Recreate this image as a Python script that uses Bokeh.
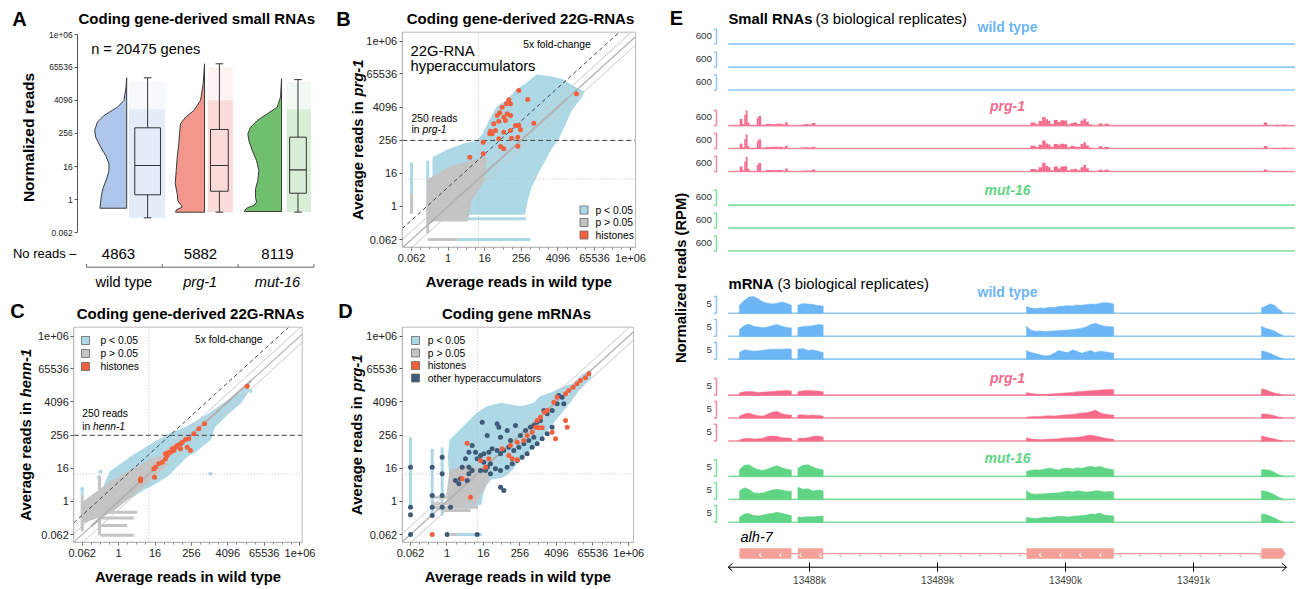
import numpy as np
from bokeh.plotting import figure
from bokeh.layouts import row, column
from bokeh.models import Range1d, FixedTicker
from bokeh.core.properties import value
from bokeh.embed import file_html
from bokeh.resources import INLINE

FN = "Liberation Sans, Arial, sans-serif"

# ============================ DATA ============================
TICK_LOG2 = [-4.0, 0.0, 4.0, 8.0, 12.0, 16.0, float(np.log2(1e6))]
TICK_TXT = ["0.062", "1", "16", "256", "4096", "65536", "1e+06"]
READS_10 = 10.0
READS_250 = 250.0
FOLD_5 = 5.0

# ---- Panel A (log2 normalized reads) ----
a_groups = ["wild type", "prg-1", "mut-16"]
a_no_reads = [4863, 5882, 8119]
a_genes = 20475
a_whisk_lo = [-2.19, -1.51, -1.50]
a_q1 = [0.59, 1.02, 0.78]
a_med = [4.13, 4.13, 3.61]
a_q3 = [8.68, 8.48, 7.55]
a_whisk_hi = [14.72, 16.41, 14.50]
a_jit_top = [14.2, 16.0, 14.2]
a_jit_dense_top = [10.9, 12.0, 10.9]
a_vio_wt_y = [14.72, 13.58, 11.98, 11.17, 10.17, 9.36, 8.36, 7.55, 6.34, 5.34, 4.33, 3.52, 2.52, 1.51, 0.5, -0.3, -1.03]
a_vio_wt_w = [0, 0.7, 2.7, 9.3, 22.7, 29.3, 32, 31, 26, 21, 17.7, 17.7, 20, 23.3, 25.3, 26, 26.7]
a_vio_prg_y = [16.41, 14.0, 11.98, 10.77, 9.96, 9.16, 7.96, 6.75, 5.14, 3.52, 1.92, 0.71, -0.1, -0.58, -0.9, -1.22, -1.51]
a_vio_prg_w = [0, 1.3, 4, 10.7, 19, 24, 25, 25.7, 27.3, 28.3, 29.3, 27.3, 26.7, 24, 22.3, 28, 29]
a_vio_mut_y = [14.6, 12.38, 11.17, 10.37, 9.56, 8.75, 7.96, 7.15, 5.94, 4.73, 3.52, 2.32, 1.31, 0.3, -0.3, -0.7, -0.98, -1.31, -1.43]
a_vio_mut_w = [0, 1, 4.3, 14.3, 24.3, 31, 33.7, 32.7, 29.3, 25, 22.7, 23.7, 26, 26, 25, 27.7, 34.3, 37, 37]

# ---- Panel B (log2 average reads, wild type vs prg-1) ----
b_sig_x = [-1.6, 0.3, 2.1, 3.2, 3.9, 4.6, 5.4, 6.5, 7.5, 8.6, 9.7, 11.2, 12.6, 13.7, 14.8, 14.5, 13.4, 12.6, 11.9, 11.2, 10.5, 9.7, 9.0, 8.6, 8.3, 2.1, -1.6]
b_sig_y = [5.9, 6.9, 7.6, 7.8, 8.8, 10.4, 12.0, 12.8, 14.0, 14.8, 15.8, 15.6, 15.2, 14.4, 13.8, 13.2, 11.6, 9.6, 8.0, 7.0, 5.5, 3.9, 2.3, 0.7, -0.9, -0.9, 3.0]
b_ns_x = [-2.22, 0.26, 4.1, 3.9, 2.45, 2.08, -2.22]
b_ns_y = [3.13, 4.73, 5.9, 3.1, 0.71, -1.7, -1.7]
b_ns_diag = [-2.0, 13.0]
b_sig_stripes = [(-4.0, 1.5, -4.0, 5.3), (-2.22, 1.5, -2.22, 5.5), (1.0, -4.0, 9.0, -4.0), (2.1, -1.5, 8.5, -1.5)]
b_ns_stripes = [(-4.0, -0.9, -4.0, 1.5), (-2.22, -3.3, -2.22, 1.5), (-2.22, -4.0, 1.0, -4.0)]
b_hist_x = [7.73, 14.03, 6.64, 6.38, 6.82, 8.71, 5.91, 5.65, 6.46, 6.82, 5.36, 6.09, 4.99, 5.54, 6.27, 7.37, 7.73, 9.37, 4.63, 5.18, 4.56, 4.82, 6.09, 6.82, 7.91, 5.54, 6.93, 7.62, 3.84, 5.73, 6.09, 7.62, 3.84, 2.37]
b_hist_y = [14.0, 13.6, 12.87, 12.39, 12.39, 12.91, 11.98, 11.30, 11.18, 10.98, 10.98, 10.77, 9.97, 10.29, 10.37, 9.77, 9.77, 10.05, 9.08, 9.16, 8.77, 8.77, 8.96, 9.16, 9.25, 8.16, 8.24, 8.36, 7.75, 7.23, 6.95, 7.27, 6.35, 5.94]

# ---- Panel C (wild type vs henn-1) ----
c_sig_x = [-0.89, 1.67, 3.51, 5.34, 7.54, 9.73, 11.93, 13.4, 14.31, 14.13, 13.4, 11.93, 10.46, 10.1, 8.27, 7.54, 6.44, 5.34, 3.87, 2.77, 1.67, -0.16, -1.99]
c_sig_y = [3.52, 5.53, 6.74, 7.94, 8.95, 10.35, 12.04, 12.97, 14.05, 13.17, 11.96, 10.56, 8.95, 7.54, 5.93, 5.53, 4.32, 3.12, 2.11, 1.51, 0.7, -0.1, 0.7]
c_ns_x = [-3.82, -0.89, 2.41, 4.6, 5.34, 3.14, 1.67, -0.89, -3.82]
c_ns_y = [-0.1, 2.31, 4.32, 5.53, 4.52, 2.31, 0.91, -1.31, -2.51]
c_ns_diag = [-3.0, 14.6]
c_sig_out_x = [-1.99, -2.17, 10.1, -4.0, 14.5]
c_sig_out_y = [3.6, 2.9, 3.32, 1.5, 13.3]
c_sig_stripes = [(-4.0, 0.7, -4.0, 1.6)]
c_ns_stripes = [(-4.0, -3.6, -4.0, 0.7), (-2.1, -4.1, -2.1, 3.1), (-2.2, -1.31, 2.04, -1.31),
                (-2.0, -2.0, 1.67, -2.0), (-2.0, -2.9, 0.94, -2.9), (-1.99, -4.1, 1.67, -4.1)]
c_hist_x = [14.13, 9.44, 8.82, 8.27, 7.72, 7.35, 6.99, 6.8, 6.44, 6.25, 5.89, 5.52, 5.34, 5.15, 4.79, 4.42, 4.05, 5.7, 6.07, 6.8, 7.54, 7.9, 3.87, 2.41, 2.41, 3.95, 5.15]
c_hist_y = [13.89, 9.35, 8.75, 8.14, 7.54, 7.46, 7.14, 6.94, 6.74, 6.53, 6.33, 5.93, 5.53, 5.13, 4.73, 4.52, 4.12, 5.93, 6.13, 6.33, 6.53, 6.13, 3.92, 2.72, 2.47, 2.92, 5.73]

# ---- Panel D (mRNA, wild type vs prg-1) ----
d_sig_x = [0.39, 2.21, 3.31, 4.41, 5.87, 8.06, 9.52, 10.25, 11.35, 12.45, 13.91, 14.82, 15.55, 15.74, 14.64, 13.54, 12.81, 12.08, 11.35, 10.62, 9.89, 9.16, 8.43, 7.7, 7.15, 6.6, 5.87, 4.77, 4.22, 3.86, 3.68, 2.76, 1.12, 0.39, 0.2]
d_sig_y = [7.34, 9.35, 10.56, 11.36, 11.76, 11.36, 11.76, 12.57, 12.97, 13.57, 14.17, 15.18, 15.58, 14.98, 13.77, 12.16, 11.16, 10.15, 9.15, 8.14, 7.14, 6.33, 5.53, 4.73, 3.92, 3.32, 2.92, 2.72, 1.91, 0.91, -0.3, -0.5, -0.3, 2.51, 5.33]
d_ns_x = [0.39, 2.21, 4.04, 4.59, 3.86, 3.13, 0.39, 0.02]
d_ns_y = [3.72, 4.32, 3.72, 2.92, 1.31, -0.1, -0.7, 0.5]
d_ns_diag = [-1.0, 15.8]
d_sig_stripes = [(-4.0, -0.7, -4.0, 7.74), (-1.62, -1.71, -1.62, 6.33), (-0.53, -1.7, -0.53, 6.5), (1.12, -4.0, 3.86, -4.0)]
d_ns_stripes = [(-1.62, 0.5, 3.6, 0.5), (-1.62, -0.3, 3.2, -0.3), (-1.62, -0.7, 3.4, -0.7), (-0.53, -1.1, 2.6, -1.1), (0.39, -4.0, 1.12, -4.0)]
d_other_x = [3.86, 5.5, 5.69, 7.51, 6.6, 4.41, 5.87, 6.96, 8.06, 8.61, 9.16, 9.52, 9.89, 10.25, 10.99, 11.53, 12.08, 12.63, 12.81, 12.26, 10.62, 9.52, 8.97, 8.43, 7.88, 7.33, 6.78, 6.23, 5.87, 5.5, 4.95, 4.59, 4.04, 3.68, 3.31, 3.13, 2.76, 2.4, 2.03, 1.67, 2.4, 3.68, 4.22, 4.77, 5.32, 5.87, 6.6, 7.15, 7.7, 8.24, 8.79, 9.34, 9.89, 10.44, 10.99, 11.53, 2.21, 1.48, 1.3, 0.93, 5.87, 6.23, -0.53, -1.62, -0.53, -1.62, -0.53, -1.62, -0.53, 0.39, -1.62, -4.0, 0.02, 3.31, -4.0, 2.4, 2.76, 4.77, 4.04, 4.41, -4.0, -4.0]
d_other_y = [9.55, 9.35, 8.95, 9.15, 8.55, 7.94, 7.74, 7.34, 7.94, 8.55, 8.95, 9.15, 9.55, 9.75, 10.56, 10.96, 11.76, 12.57, 11.76, 12.77, 10.96, 7.74, 7.34, 6.94, 6.53, 6.13, 6.53, 6.13, 5.73, 6.13, 6.33, 5.93, 5.73, 5.53, 5.13, 5.93, 6.74, 5.93, 5.13, 4.12, 4.12, 3.72, 3.72, 3.32, 3.92, 3.72, 4.12, 4.52, 4.93, 5.33, 5.73, 6.53, 6.94, 7.54, 8.14, 8.95, 2.51, 2.72, 2.11, 2.51, 1.71, 1.31, 5.33, 4.12, 3.32, 0.7, 0.7, -0.7, -0.7, -0.7, -1.71, -4.0, -4.0, -4.0, -0.7, 3.32, 3.72, 4.52, 4.73, 4.12, 4.12, -1.62]
d_hist_x = [15.55, 15.19, 14.64, 14.27, 13.84, 13.36, 13.0, 12.08, 11.72, 10.99, 10.69, 10.25, 9.89, 9.71, 10.07, 10.44, 9.34, 8.79, 13.0, 13.18, 11.53, 11.9, 8.43, 7.7, 6.96, 6.05, 6.78, 7.15, 7.7, 4.59, 4.22, 2.21, 3.68, 1.67, 2.58, -1.62]
d_hist_y = [15.38, 14.9, 14.58, 14.17, 13.77, 13.37, 12.97, 12.57, 11.96, 10.96, 10.76, 10.15, 9.75, 8.95, 8.87, 8.87, 8.34, 7.94, 9.75, 8.95, 8.34, 7.54, 7.34, 7.14, 6.74, 6.33, 5.53, 5.13, 5.01, 5.13, 4.12, 7.02, 4.93, 2.72, 0.5, -4.0]

# ---- Panel E (genome browser, alh-7 locus, kb) ----
e_axis_ticks = [13488, 13489, 13490, 13491]
e_srna_scale = 600
e_mrna_scale = 5
gene_exon_start = [13487.453, 13487.909, 13489.695, 13491.531]
gene_exon_end = [13487.859, 13488.107, 13490.377, 13491.719]
mrna_cov_end = [13487.859, 13488.107, 13490.377, 13491.700]
EXON_SAMPLES = [12, 6, 20, 6]
mrna_wt_rep1 = [2.5, 3.8, 4.9, 5.0, 4.3, 3.4, 3.0, 2.8, 3.0, 3.4, 3.0, 2.4,
                2.4, 2.9, 2.8, 2.6, 2.3, 2.2,
                2.0, 1.6, 1.4, 1.6, 1.5, 1.8, 1.7, 2.0, 2.1, 2.3, 2.2, 2.5, 2.4, 2.6, 2.8, 2.7, 3.0, 3.2, 3.1, 2.8,
                1.6, 2.2, 2.8, 2.4, 1.2, 0.2]
mrna_wt_rep2 = [2.0, 3.2, 3.6, 3.0, 2.8, 2.6, 2.8, 3.2, 3.5, 3.0, 2.6, 2.5,
                2.6, 2.9, 3.0, 3.2, 3.5, 3.4,
                3.0, 1.8, 1.5, 1.6, 1.4, 1.5, 1.6, 1.7, 1.8, 1.9, 2.0, 2.2, 2.4, 2.8, 3.5, 3.9, 3.4, 3.0, 2.9, 2.8,
                3.0, 2.4, 2.0, 1.6, 0.8, 0.2]
mrna_wt_rep3 = [2.0, 2.8, 2.6, 2.4, 2.5, 2.7, 2.9, 3.0, 3.0, 3.0, 3.1, 3.0,
                3.0, 3.2, 2.6, 2.8, 2.4, 2.0,
                2.6, 2.0, 1.7, 1.3, 1.0, 1.1, 1.8, 2.6, 2.2, 2.0, 2.8, 2.4, 1.8, 2.2, 2.6, 2.0, 2.4, 2.2, 2.0, 1.8,
                2.5, 2.2, 1.8, 1.2, 0.6, 0.1]
mrna_prg_rep1 = [0.7, 1.0, 1.1, 1.0, 0.8, 0.9, 1.0, 1.1, 1.2, 1.3, 1.4, 1.2,
                 1.0, 1.3, 1.4, 1.3, 1.2, 1.0,
                 0.8, 0.5, 0.3, 0.2, 0.2, 0.3, 0.4, 0.5, 0.6, 0.7, 0.8, 1.0, 1.1, 1.2, 1.3, 1.4, 1.5, 1.6, 1.7, 1.7,
                 1.9, 1.6, 1.1, 0.6, 0.3, 0.1]
mrna_prg_rep2 = [0.6, 1.2, 1.5, 1.0, 0.7, 0.6, 1.2, 1.8, 2.0, 1.3, 1.0, 0.9,
                 0.9, 1.0, 0.8, 0.9, 0.8, 0.6,
                 0.3, 0.4, 0.5, 0.5, 0.6, 0.7, 0.6, 0.8, 0.9, 1.0, 1.1, 1.3, 1.5, 1.6, 1.9, 2.4, 1.6, 1.2, 1.0, 0.9,
                 1.2, 1.2, 1.0, 0.7, 0.3, 0.1]
mrna_prg_rep3 = [0.4, 0.7, 0.8, 0.6, 0.7, 0.8, 1.4, 1.5, 1.4, 1.0, 0.9, 0.8,
                 0.8, 0.8, 1.0, 1.4, 1.5, 1.2,
                 1.0, 0.6, 0.5, 0.4, 0.5, 0.5, 0.6, 0.7, 0.9, 1.0, 1.0, 1.1, 1.3, 1.6, 1.8, 1.5, 1.2, 0.9, 0.7, 0.5,
                 1.5, 1.2, 0.9, 0.6, 0.3, 0.1]
mrna_mut_rep1 = [2.0, 3.3, 3.5, 2.6, 2.0, 1.8, 2.2, 2.8, 3.2, 2.6, 2.2, 1.8,
                 2.4, 3.3, 3.5, 2.8, 2.2, 2.0,
                 1.5, 1.8, 2.0, 1.9, 2.2, 2.5, 2.2, 1.9, 2.4, 2.5, 2.2, 2.6, 2.4, 2.8, 3.0, 2.7, 3.0, 2.5, 2.2, 2.0,
                 2.0, 2.0, 1.8, 1.2, 0.5, 0.1]
mrna_mut_rep2 = [2.5, 3.5, 3.0, 2.0, 1.8, 2.0, 2.4, 2.8, 3.0, 2.8, 2.5, 2.4,
                 3.6, 3.0, 3.2, 2.5, 2.8, 2.6,
                 2.6, 1.7, 1.5, 1.6, 1.7, 1.8, 1.9, 2.0, 2.2, 2.5, 2.2, 2.6, 2.4, 2.2, 2.3, 2.6, 2.5, 2.2, 2.4, 2.2,
                 2.6, 2.4, 2.0, 1.4, 0.6, 0.1]
mrna_mut_rep3 = [1.5, 2.5, 2.6, 2.0, 1.9, 2.2, 2.5, 2.7, 3.0, 2.7, 2.3, 2.0,
                 1.6, 1.5, 1.7, 1.6, 1.8, 1.9,
                 1.5, 1.2, 1.1, 1.3, 1.5, 1.4, 1.6, 1.8, 1.7, 1.6, 1.8, 1.9, 2.0, 2.2, 2.5, 2.4, 2.8, 2.2, 2.0, 1.9,
                 2.5, 2.3, 1.9, 1.3, 0.6, 0.1]
srna_bin_start = [13487.455, 13487.476, 13487.490, 13487.502, 13487.516, 13487.530, 13487.588, 13487.600, 13487.622,
                  13487.660, 13487.700, 13487.740, 13487.790, 13487.810, 13487.930, 13487.960, 13487.990, 13488.020,
                  13489.727, 13489.766, 13489.790, 13489.818, 13489.844, 13489.865, 13489.883, 13489.909, 13489.940,
                  13489.960, 13489.990, 13490.013, 13490.039, 13490.065, 13490.091, 13490.117, 13490.140, 13490.160,
                  13490.182, 13490.260, 13490.305, 13491.549, 13491.641, 13491.690]
srna_bin_end = [13487.476, 13487.490, 13487.502, 13487.516, 13487.530, 13487.588, 13487.600, 13487.622, 13487.660,
                13487.700, 13487.740, 13487.790, 13487.810, 13487.830, 13487.960, 13487.990, 13488.020, 13488.045,
                13489.766, 13489.790, 13489.818, 13489.844, 13489.865, 13489.883, 13489.909, 13489.940, 13489.960,
                13489.990, 13490.013, 13490.039, 13490.065, 13490.091, 13490.117, 13490.140, 13490.160, 13490.182,
                13490.208, 13490.290, 13490.339, 13491.576, 13491.665, 13491.732]
srna_prg_rep1 = [260, 60, 430, 600, 120, 25, 300, 380, 30, 70, 55, 75, 30, 130, 35, 60, 40, 100,
                 120, 50, 180, 340, 250, 180, 60, 220, 140, 210, 200, 40, 100, 120, 60, 200, 270, 150, 40, 80, 70, 120, 30, 35]
srna_prg_rep2 = [190, 50, 380, 560, 100, 25, 280, 360, 30, 60, 70, 70, 30, 110, 30, 55, 45, 70,
                 110, 60, 150, 320, 200, 160, 70, 180, 150, 190, 170, 50, 110, 80, 60, 180, 250, 120, 40, 90, 60, 100, 25, 30]
srna_prg_rep3 = [200, 50, 400, 580, 110, 20, 260, 340, 25, 60, 50, 65, 25, 120, 25, 45, 30, 80,
                 100, 70, 170, 350, 220, 170, 50, 200, 120, 200, 210, 40, 90, 110, 50, 170, 260, 130, 30, 70, 75, 80, 25, 25]

# ============================ GEOMETRY ============================
# the page template has no body margin, so reference pixels map 1:1 to page pixels


def make_full(box, X, Y, **kw):
    """Figure whose frame covers the whole box; axes are placed with fixed_location."""
    x0, x1, y0, y1 = box
    p = figure(width=x1 - x0, height=y1 - y0,
               x_range=Range1d(X(x0), X(x1)), y_range=Range1d(Y(y1), Y(y0)),
               output_backend="svg", toolbar_location=None,
               min_border_left=0, min_border_right=0, min_border_top=0, min_border_bottom=0, **kw)
    p.grid.visible = False
    p.outline_line_color = None
    p.background_fill_color = "white"
    p.border_fill_color = "white"
    return p


def style_log_axis(ax, size, minor=False):
    ax.ticker = FixedTicker(ticks=TICK_LOG2, minor_ticks=list(range(-4, 20)) if minor else [])
    ax.major_label_overrides = {t: s for t, s in zip(TICK_LOG2, TICK_TXT)}
    ax.major_label_text_font = FN
    ax.major_label_text_font_size = size
    ax.major_label_text_color = "#222222"
    ax.major_tick_in = 0
    ax.major_tick_out = 3
    ax.minor_tick_in = 0
    ax.minor_tick_out = 2
    ax.major_tick_line_color = "#555555"
    ax.minor_tick_line_color = "#888888" if minor else None
    ax.axis_line_color = "#bbbbbb"


def T(p, X, Y, pxs, pys, ts, size, style="normal", align="left", color="black", angle=0.0):
    p.text(x=[X(v) for v in pxs], y=[Y(v) for v in pys], text=list(ts), text_font=value(FN),
           text_font_size=size, text_font_style=style, text_align=align, text_baseline="middle",
           text_color=color, angle=angle)


def rot_label(p, X, Y, cx, cy, size_px, parts):
    """Vertical label (reading upwards) made of parts (text, style, width in em)."""
    total = sum(w for _, _, w in parts) * size_px
    start = cy + total / 2.0
    for t, st, w in parts:
        T(p, X, Y, [cx], [start], [t], "%.1fpx" % size_px, style=st, angle=np.pi / 2)
        start -= w * size_px


def letter(p, X, Y, cx, cy, t):
    T(p, X, Y, [cx], [cy], [t], "20px", style="bold", align="center")


SIG = "#add8e6"
NS = "#c4c4c4"
HIST = "#f4603c"
OTHER = "#3d5a78"


def stripes(p, segs, color):
    p.segment(x0=[s[0] for s in segs], y0=[s[1] for s in segs], x1=[s[2] for s in segs],
              y1=[s[3] for s in segs], color=color, line_width=3)


def ref_lines(p, bx0, bx1, by0, by1, ns_diag, fc5=True, cut250=True):
    def diag(off, **kw):
        xa = max(bx0, by0 - off)
        xb = min(bx1, by1 - off)
        p.line([xa, xb], [xa + off, xb + off], **kw)
    # band of non-significant genes along the diagonal
    p.line(ns_diag, ns_diag, color="#bdbdbd", line_width=2.5)
    for off in (-1.0, 1.0):
        diag(off, color="#c9c9c9", line_width=1)
    diag(0.0, color="#b0b0b0", line_width=1.2)
    l10 = float(np.log2(READS_10))
    p.line([l10, l10], [by0, by1], color="#c0c0c0", line_width=1, line_dash="1 2")
    p.line([bx0, bx1], [l10, l10], color="#c0c0c0", line_width=1, line_dash="1 2")
    if fc5:
        diag(float(np.log2(FOLD_5)), color="#444444", line_width=1, line_dash="4 3")
    if cut250:
        l250 = float(np.log2(READS_250))
        p.line([bx0, bx1], [l250, l250], color="#444444", line_width=1, line_dash="5 3")


def legend(p, X, Y, px_sq, px_t, pys, colors, labels):
    p.scatter(x=[X(px_sq)] * len(pys), y=[Y(v) for v in pys], marker="square", size=8, fill_color=colors,
              line_color="#666666", line_width=0.8)
    T(p, X, Y, [px_t] * len(pys), pys, labels, "10.3px")


def scatter_panel(box, X, Y, frame, title, title_cx, title_cy, ylab_cx, ylab_parts, xlab_cy):
    p = make_full(box, X, Y)
    fx0, fx1, fy0, fy1 = frame
    bx0, bx1, by0, by1 = X(fx0), X(fx1), Y(fy1), Y(fy0)
    style_log_axis(p.xaxis, "11px", minor=True)
    style_log_axis(p.yaxis, "11px")
    p.xaxis.fixed_location = by0
    p.xaxis.bounds = (bx0, bx1)
    p.yaxis.fixed_location = bx0
    p.yaxis.bounds = (by0, by1)
    p.xaxis.major_label_standoff = 4
    p.yaxis.major_label_standoff = 2
    T(p, X, Y, [title_cx], [title_cy], [title], "15px", style="bold", align="center")
    T(p, X, Y, [(fx0 + fx1) / 2.0], [xlab_cy], ["Average reads in wild type"], "14.8px", style="bold",
      align="center")
    rot_label(p, X, Y, ylab_cx, (fy0 + fy1) / 2.0, 14.8, ylab_parts)
    return p, (bx0, bx1, by0, by1)


def box_outline(p, b):
    p.quad(left=[b[0]], right=[b[1]], bottom=[b[2]], top=[b[3]], fill_color=None, line_color="#bbbbbb",
           line_width=1)


# ============================ PANEL A ============================
def XA(px):
    return (px - 86) / 75.8


def YA(py):
    return -4 + (232.3 - py) / 8.28


pa = make_full((0, 335, 0, 292), XA, YA, x_axis_location=None)
style_log_axis(pa.yaxis, "8.5px")
pa.yaxis.fixed_location = XA(77.3)
pa.yaxis.bounds = (TICK_LOG2[0], TICK_LOG2[-1])
pa.yaxis.axis_line_color = "#555555"
pa.yaxis.major_label_standoff = 2

vio_right = [0.53, 1.557, 2.573]
box_l = [0.637, 1.636, 2.68]
box_r = [0.976, 1.87, 2.90]
jit_l = [0.56, 1.60, 2.64]
jit_r = [1.04, 1.93, 2.96]
vio_fill = ["#aec6ea", "#f3968c", "#70bf6e"]
jit_fill = ["#b9cdef", "#f4a59e", "#9ad497"]
vio_y = [a_vio_wt_y, a_vio_prg_y, a_vio_mut_y]
vio_w = [a_vio_wt_w, a_vio_prg_w, a_vio_mut_w]
pa.quad(left=jit_l, right=jit_r, bottom=a_whisk_lo, top=a_jit_top, fill_color=jit_fill, fill_alpha=0.13, line_color=None)
pa.quad(left=jit_l, right=jit_r, bottom=a_whisk_lo, top=a_jit_dense_top, fill_color=jit_fill, fill_alpha=0.3, line_color=None)
for i in range(3):
    xs = [vio_right[i] - w / 75.8 for w in vio_w[i]] + [vio_right[i], vio_right[i]]
    ys = list(vio_y[i]) + [vio_y[i][-1], vio_y[i][0]]
    pa.patch(xs, ys, fill_color=vio_fill[i], line_color="#3a3a3a", line_width=1)
cx = [(l + r) / 2 for l, r in zip(box_l, box_r)]
pa.quad(left=box_l, right=box_r, bottom=a_q1, top=a_q3, fill_color=None, line_color="#333333", line_width=1)
pa.segment(x0=box_l, y0=a_med, x1=box_r, y1=a_med, color="#333333", line_width=1.2)
pa.segment(x0=cx, y0=a_q3, x1=cx, y1=a_whisk_hi, color="#333333", line_width=1)
pa.segment(x0=cx, y0=a_q1, x1=cx, y1=a_whisk_lo, color="#333333", line_width=1)
pa.segment(x0=[c - 0.05 for c in cx], y0=a_whisk_hi, x1=[c + 0.05 for c in cx], y1=a_whisk_hi, color="#333333")
pa.segment(x0=[c - 0.05 for c in cx], y0=a_whisk_lo, x1=[c + 0.05 for c in cx], y1=a_whisk_lo, color="#333333")
CAT_PY = 266.7
pa.segment(x0=[0], y0=[YA(CAT_PY)], x1=[3], y1=[YA(CAT_PY)], color="#666666")
pa.segment(x0=[0, 1, 2, 3], y0=[YA(CAT_PY)] * 4, x1=[0, 1, 2, 3], y1=[YA(CAT_PY - 3)] * 4, color="#666666")
T(pa, XA, YA, [118, 200, 277], [253.3] * 3, [str(v) for v in a_no_reads], "15px", align="center")
T(pa, XA, YA, [123.3], [281.7], [a_groups[0]], "14.6px", align="center")
T(pa, XA, YA, [199.7, 277], [281.7, 281.7], a_groups[1:], "14.6px", style="italic", align="center")
T(pa, XA, YA, [90.7], [48.3], ["n = %d genes" % a_genes], "14.6px")
T(pa, XA, YA, [76], [253.3], ["No reads \u2013"], "13px", align="right")
T(pa, XA, YA, [78], [18], ["Coding gene-derived small RNAs"], "15px", style="bold")
rot_label(pa, XA, YA, 28, 137, 15.5, [("Normalized reads", "bold", 8.336)])
letter(pa, XA, YA, 19, 18, "A")

# ============================ PANEL B ============================


def XB(px):
    return -4 + (px - 411) / 9.15


def YB(py):
    return -4 + (239 - py) / 8.28


pb, bb = scatter_panel((335, 667, 0, 292), XB, YB, (401.7, 635, 31.7, 246.7), "Coding gene-derived 22G-RNAs",
                       520, 18, 357, [("Average reads in ", "bold", 8.337), ("prg-1", "bold italic", 2.5)], 281.7)
pb.patch(b_sig_x, b_sig_y, fill_color=SIG, line_color=SIG, line_width=2)
stripes(pb, b_sig_stripes, SIG)
pb.patch(b_ns_x, b_ns_y, fill_color=NS, line_color=NS, line_width=2)
stripes(pb, b_ns_stripes, NS)
ref_lines(pb, *bb, ns_diag=b_ns_diag)
pb.scatter(b_hist_x, b_hist_y, size=5, fill_color=HIST, line_color=None)
box_outline(pb, bb)
legend(pb, XB, YB, 583.5, 595, [209.5, 222, 234.5], [SIG, NS, HIST], ["p < 0.05", "p > 0.05", "histones"])
T(pb, XB, YB, [410, 410], [50, 65.7], ["22G-RNA", "hyperaccumulators"], "14.8px")
T(pb, XB, YB, [556.5], [44], ["5x fold-change"], "10.3px", align="center")
T(pb, XB, YB, [411, 411], [118.3, 129.3], ["250 reads", "in"], "10.3px")
T(pb, XB, YB, [422], [129.3], ["prg-1"], "10.3px", style="italic")
letter(pb, XB, YB, 343, 18, "B")

# ============================ PANEL C ============================


def XC(px):
    return -4 + (px - 81.7) / 9.1


def YC(py):
    return -4 + (534 - py) / 8.29


pc, bc_ = scatter_panel((0, 335, 292, 588), XC, YC, (73.3, 301.7, 326.7, 541.7), "Coding gene-derived 22G-RNAs",
                        190, 313, 25, [("Average reads in ", "bold", 8.337), ("henn-1", "bold italic", 3.278)], 576.7)
pc.patch(c_sig_x, c_sig_y, fill_color=SIG, line_color=SIG, line_width=2)
pc.scatter(c_sig_out_x, c_sig_out_y, size=4, fill_color=SIG, line_color=None)
stripes(pc, c_sig_stripes, SIG)
pc.patch(c_ns_x, c_ns_y, fill_color=NS, line_color=NS, line_width=2)
stripes(pc, c_ns_stripes, NS)
ref_lines(pc, *bc_, ns_diag=c_ns_diag)
pc.scatter(c_hist_x, c_hist_y, size=5, fill_color=HIST, line_color=None)
box_outline(pc, bc_)
legend(pc, XC, YC, 85, 100, [340, 353, 366], [SIG, NS, HIST], ["p < 0.05", "p > 0.05", "histones"])
T(pc, XC, YC, [228.3], [339], ["5x fold-change"], "10.3px", align="center")
T(pc, XC, YC, [81.7, 81.7], [413.3, 425.7], ["250 reads", "in"], "10.3px")
T(pc, XC, YC, [92.5], [425.7], ["henn-1"], "10.3px", style="italic")
letter(pc, XC, YC, 17, 310, "C")

# ============================ PANEL D ============================


def XD(px):
    return -4 + (px - 410) / 9.12


def YD(py):
    return -4 + (534 - py) / 8.29


pd_, bd = scatter_panel((335, 667, 292, 588), XD, YD, (401.7, 633, 326.7, 541.7), "Coding gene mRNAs",
                        516, 313, 356, [("Average reads in ", "bold", 8.337), ("prg-1", "bold italic", 2.5)], 576.7)
pd_.patch(d_sig_x, d_sig_y, fill_color=SIG, line_color=SIG, line_width=2)
stripes(pd_, d_sig_stripes, SIG)
pd_.patch(d_ns_x, d_ns_y, fill_color=NS, line_color=NS, line_width=2)
stripes(pd_, d_ns_stripes, NS)
ref_lines(pd_, *bd, ns_diag=d_ns_diag, fc5=False, cut250=False)
pd_.scatter(d_other_x, d_other_y, size=5, fill_color=OTHER, line_color=None)
pd_.scatter(d_hist_x, d_hist_y, size=5, fill_color=HIST, line_color=None)
box_outline(pd_, bd)
legend(pd_, XD, YD, 415, 427.3, [340, 352.5, 365, 377.5], [SIG, NS, HIST, OTHER],
       ["p < 0.05", "p > 0.05", "histones", "other hyperaccumulators"])
letter(pd_, XD, YD, 345, 310, "D")

# ============================ PANEL E ============================


def kb(px):
    return 13488 + (px - 809) / 128.0


def YE(py):
    return py


E_FRAME_BOTTOM = 572
pe = figure(width=1295 - 667, height=588,
            x_range=Range1d(kb(667), kb(1295)), y_range=Range1d(E_FRAME_BOTTOM, 0),
            output_backend="svg", toolbar_location=None, y_axis_location=None,
            min_border_left=0, min_border_right=0, min_border_top=0, min_border_bottom=588 - E_FRAME_BOTTOM)
pe.grid.visible = False
pe.outline_line_color = None
pe.xaxis.ticker = FixedTicker(ticks=e_axis_ticks)
pe.xaxis.major_label_overrides = {t: "%dk" % t for t in e_axis_ticks}
pe.xaxis.major_tick_in = 9
pe.xaxis.major_tick_out = 0
pe.xaxis.minor_tick_line_color = None
pe.xaxis.axis_line_color = None
pe.xaxis.major_tick_line_color = "black"
pe.xaxis.major_label_text_font = FN
pe.xaxis.major_label_text_font_size = "10px"
pe.xaxis.major_label_standoff = 3

BLUE, PINK, GREEN = "#6db6f6", "#f76a8c", "#5fd585"
LBLUE, LPINK, LGREEN = "#8fc8f5", "#f58aa3", "#84dea0"
GENE = "#f6a09a"
gcol = [BLUE, PINK, GREEN]
lcol = [LBLUE, LPINK, LGREEN]
srna_top = [43.7, 125.3, 205.0]
mrna_top = [313.3, 395.3, 476.7]
STEP = 23.0
H_S, H_M = 15.0, 16.7
X_START, X_END = kb(727.7), kb(1295)
BR_X, BR_T = kb(716), kb(713.3)

bx, by, bcol, lx, ly, lt = [], [], [], [], [], []
sy0, sc = [], []
for tops, h, lab in ((srna_top, H_S, str(e_srna_scale)), (mrna_top, H_M, str(e_mrna_scale))):
    for g in range(3):
        for r in range(3):
            base = tops[g] + r * STEP
            bx.append([BR_T, BR_X, BR_X, BR_T])
            by.append([base - h, base - h, base, base])
            bcol.append(lcol[g])
            lx.append(711.5)
            ly.append(base - h / 2 - 1)
            lt.append(lab)
            sy0.append(base)
            sc.append(lcol[g])
pe.multi_line(xs=bx, ys=by, line_color=bcol, line_width=1.5)
T(pe, kb, YE, lx, ly, lt, "9.8px", align="right", color="#333333")
pe.segment(x0=[X_START] * len(sy0), y0=sy0, x1=[X_END] * len(sy0), y1=sy0, color=sc, line_width=1.6)

k_s = H_S / e_srna_scale
for r, vals in enumerate([srna_prg_rep1, srna_prg_rep2, srna_prg_rep3]):
    base = srna_top[1] + r * STEP
    pe.quad(left=srna_bin_start, right=srna_bin_end, bottom=[base] * len(vals),
            top=[base - v * k_s for v in vals], fill_color=PINK, line_color=None)

k_m = H_M / e_mrna_scale
mrna_sets = [[mrna_wt_rep1, mrna_wt_rep2, mrna_wt_rep3],
             [mrna_prg_rep1, mrna_prg_rep2, mrna_prg_rep3],
             [mrna_mut_rep1, mrna_mut_rep2, mrna_mut_rep3]]
for g in range(3):
    pxs, pys = [], []
    for r in range(3):
        base = mrna_top[g] + r * STEP
        vals = mrna_sets[g][r]
        i0 = 0
        for e, n in enumerate(EXON_SAMPLES):
            seg = vals[i0:i0 + n]
            i0 += n
            xs_e = list(np.linspace(gene_exon_start[e], mrna_cov_end[e], n))
            pxs.append([gene_exon_start[e]] + xs_e + [mrna_cov_end[e]])
            pys.append([base] + [base - v * k_m for v in seg] + [base])
    pe.patches(pxs, pys, fill_color=gcol[g], line_color=gcol[g], line_width=0.5)

GY = 554.0
pe.line([gene_exon_start[0], gene_exon_end[-1]], [GY, GY], color=GENE, line_width=1.2)
pe.quad(left=gene_exon_start[:3], right=gene_exon_end[:3], top=[GY - 5.3] * 3, bottom=[GY + 5.3] * 3,
        fill_color=GENE, line_color=None)
e4s, e4e = gene_exon_start[3], gene_exon_end[3]
pe.patch([e4s, e4e - 0.025, e4e, e4e - 0.025, e4s], [GY - 5.3, GY - 5.3, GY, GY + 5.3, GY + 5.3],
         fill_color=GENE, line_color=None)
chev = np.arange(kb(760), kb(1280), 20 / 128.0)
in_ex = [any(s <= c <= e for s, e in zip(gene_exon_start, gene_exon_end)) for c in chev]
pe.text(x=list(chev), y=[GY] * len(chev), text=["\u2039"] * len(chev), text_font=value(FN),
        text_font_size="11px", text_align="center", text_baseline="middle",
        text_color=["white" if f else GENE for f in in_ex])
T(pe, kb, YE, [740], [537], ["alh-7"], "14.6px", style="italic")

AX_Y = 567.7
ax0, ax1 = kb(727.7), kb(1286)
pe.line([ax0, ax1], [AX_Y, AX_Y], color="black", line_width=1)
pe.line([ax0 + 0.035, ax0, ax0 + 0.035], [AX_Y - 4, AX_Y, AX_Y + 4], color="black", line_width=1)
pe.line([ax1 - 0.035, ax1, ax1 - 0.035], [AX_Y - 4, AX_Y, AX_Y + 4], color="black", line_width=1)

T(pe, kb, YE, [728], [19], ["Small RNAs"], "14.8px", style="bold")
T(pe, kb, YE, [815], [19], ["(3 biological replicates)"], "14.8px")
T(pe, kb, YE, [728], [284], ["mRNA"], "14.8px", style="bold")
T(pe, kb, YE, [777], [284], ["(3 biological replicates)"], "14.8px")
for (lab, st, col), yy in zip([("wild type", "bold", BLUE), ("prg-1", "bold italic", PINK), ("mut-16", "bold italic", GREEN)] * 2,
                              [27, 106, 190, 291.7, 378, 458]):
    T(pe, kb, YE, [1007], [yy], [lab], "14px", style=st, align="center", color=col)
rot_label(pe, kb, YE, 680, 278, 14.8, [("Normalized reads (RPM)", "bold", 11.5)])
letter(pe, kb, YE, 676, 18, "E")

layout = row(column(row(pa, pb), row(pc, pd_)), pe)
open("out.html", "w").write(file_html(layout, INLINE))
